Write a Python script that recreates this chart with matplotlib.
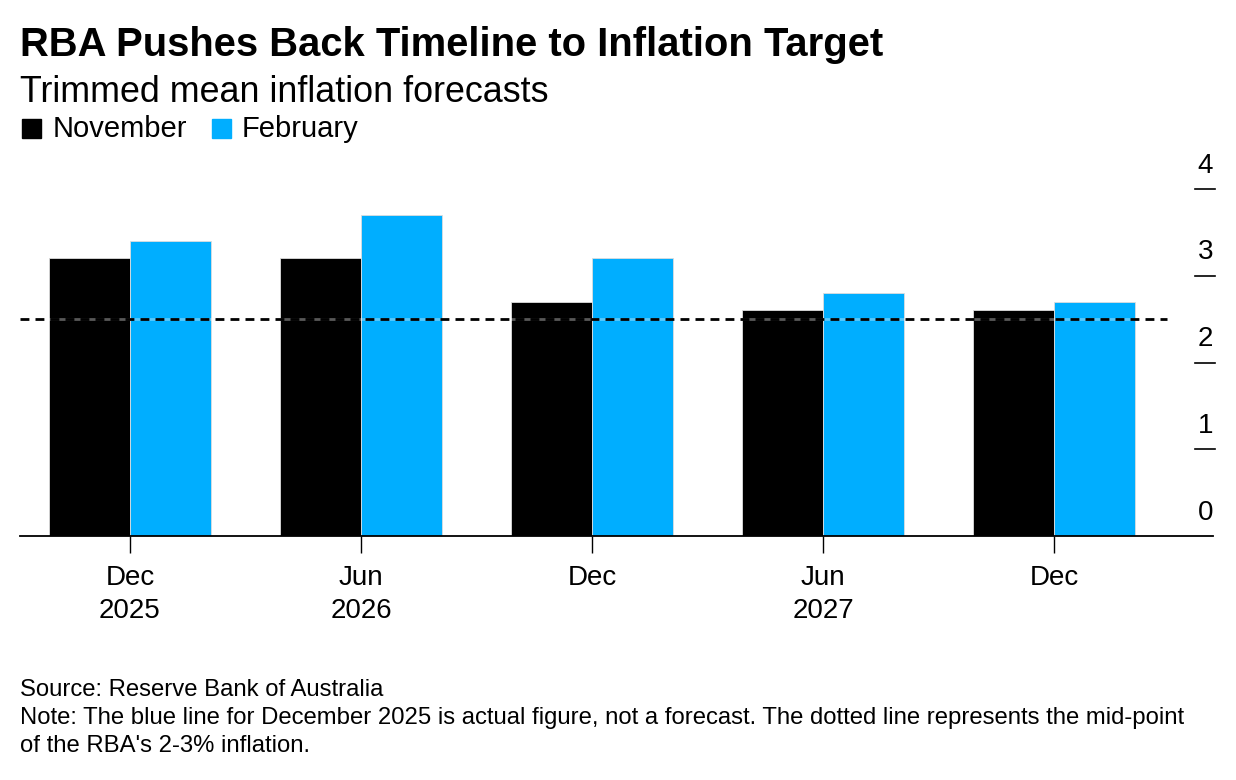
import matplotlib.pyplot as plt
import numpy as np

# ================= data =================
periods = ["Dec\n2025", "Jun\n2026", "Dec", "Jun\n2027", "Dec"]
november = [3.2, 3.2, 2.7, 2.6, 2.6]
february = [3.4, 3.7, 3.2, 2.8, 2.7]
target_mid = 2.5
y_ticks = [0, 1, 2, 3, 4]
# ========================================

plt.rcParams['font.family'] = ['Liberation Sans', 'DejaVu Sans']

fig = plt.figure(figsize=(12.36, 7.8), dpi=100)
ax = fig.add_axes([20 / 1236, 244 / 780, 1193 / 1236, 373 / 780])

x = np.arange(len(periods))
w = 0.35
ax.bar(x - w / 2, november, w, color='black', edgecolor='#dddddd', linewidth=0.6, zorder=2)
ax.bar(x + w / 2, february, w, color='#00AEFF', edgecolor='#dddddd', linewidth=0.6, zorder=2)

# mid-point of target band
ax.axhline(target_mid, xmin=0, xmax=(1167 - 20) / 1193, color='white', alpha=0.35, lw=2, zorder=3)
ax.axhline(target_mid, xmin=0, xmax=(1167 - 20) / 1193, color='black', lw=2,
           linestyle=(0, (3.2, 2.2)), zorder=4)

ax.set_xlim(-0.476, 4.688)
ax.set_ylim(0, 4.3)

for s in ['top', 'left', 'right']:
    ax.spines[s].set_visible(False)
ax.spines['bottom'].set_linewidth(1.3)
ax.spines['bottom'].set_zorder(5)

ax.set_xticks(x)
ax.set_xticklabels(periods, fontsize=20, linespacing=1.35)
ax.tick_params(axis='x', length=12, width=1, pad=9, direction='out')

# right-hand value axis: short tick lines with labels above them
ax.set_yticks([])
ytr = ax.get_yaxis_transform()
for v in y_ticks:
    if v > 0:
        ax.plot([0.985, 1.0015], [v, v], color='black', lw=1.2, transform=ytr, clip_on=False)
    ax.annotate(str(v), xy=(1.0, v), xycoords=ytr, xytext=(0, 7.5), textcoords='offset points',
                ha='right', va='bottom', fontsize=20)

# titles and legend
fig.text(20 / 1236, 1 - 45 / 780, "RBA Pushes Back Timeline to Inflation Target",
         fontsize=28.8, fontweight='bold', va='center', ha='left')
fig.text(20 / 1236, 1 - 92 / 780, "Trimmed mean inflation forecasts",
         fontsize=25.8, va='center', ha='left')

fig.patches.append(plt.Rectangle((22 / 1236, 1 - 138 / 780), 19 / 1236, 19 / 780,
                                 color='black', transform=fig.transFigure))
fig.text(53 / 1236, 1 - 129 / 780, "November", fontsize=21, va='center', ha='left')
fig.patches.append(plt.Rectangle((212 / 1236, 1 - 138 / 780), 19 / 1236, 19 / 780,
                                 color='#00AEFF', transform=fig.transFigure))
fig.text(242 / 1236, 1 - 129 / 780, "February", fontsize=21, va='center', ha='left')

# footer
fig.text(20 / 1236, 1 - 690 / 780, "Source: Reserve Bank of Australia",
         fontsize=17.2, va='center', ha='left')
fig.text(20 / 1236, 1 - 718 / 780,
         "Note: The blue line for December 2025 is actual figure, not a forecast. The dotted line represents the mid-point",
         fontsize=17.2, va='center', ha='left')
fig.text(20 / 1236, 1 - 746 / 780, "of the RBA's 2-3% inflation.",
         fontsize=17.2, va='center', ha='left')

fig.savefig("out.png", dpi=100)
